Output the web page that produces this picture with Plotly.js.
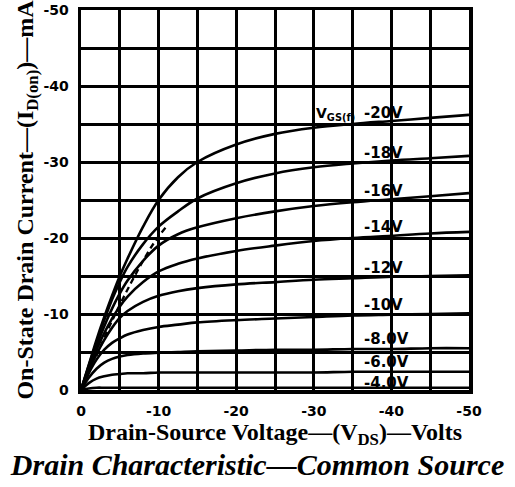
<!DOCTYPE html>
<html>
<head>
<meta charset="utf-8">
<script src="https://cdn.plot.ly/plotly-3.0.1.min.js"></script>
<style>html,body{margin:0;padding:0;background:#fff;}#chart{width:515px;height:487px;}</style>
</head>
<body>
<div id="chart"></div>
<script>
// Drain-source voltage (V) sample points, shared by all curves
const vds = [0, -1, -2, -3, -4, -5, -6, -8, -10, -12.5, -15, -20, -25, -30, -35, -40, -45, -50];

// Gate-source voltage labels (one per curve)
const gateLabels = ["-20V", "-18V", "-16V", "-14V", "-12V", "-10V", "-8.0V", "-6.0V", "-4.0V"];

// Drain current (mA) for each curve
const id_m20 = [0, -3.3, -6.6, -9.6, -12.4, -15.0, -17.3, -21.5, -25.0, -28.0, -30.0, -32.3, -33.7, -34.5, -35.0, -35.4, -35.8, -36.2];
const id_m18 = [0, -3.2, -6.3, -9.2, -11.9, -14.2, -16.2, -19.2, -21.5, -23.5, -25.2, -27.2, -28.5, -29.3, -29.8, -30.2, -30.5, -30.8];
const id_m16 = [0, -3.0, -5.8, -8.4, -10.7, -12.7, -14.4, -17.0, -19.0, -20.5, -21.4, -22.6, -23.5, -24.2, -24.7, -25.1, -25.5, -25.9];
const id_m14 = [0, -2.8, -5.3, -7.5, -9.4, -11.0, -12.3, -14.2, -15.6, -16.6, -17.3, -18.3, -19.0, -19.6, -20.0, -20.3, -20.6, -20.8];
const id_m12 = [0, -2.5, -4.7, -6.6, -8.2, -9.5, -10.4, -11.6, -12.4, -13.0, -13.4, -13.9, -14.2, -14.5, -14.7, -14.9, -15.0, -15.1];
const id_m10 = [0, -2.2, -4.0, -5.3, -6.2, -6.8, -7.3, -7.9, -8.3, -8.6, -8.9, -9.2, -9.4, -9.6, -9.8, -9.9, -10.0, -10.1];
const id_m8  = [0, -1.6, -2.8, -3.6, -4.1, -4.4, -4.6, -4.8, -4.9, -5.0, -5.1, -5.2, -5.3, -5.3, -5.4, -5.4, -5.5, -5.5];
const id_m6  = [0, -0.9, -1.5, -1.8, -2.0, -2.1, -2.2, -2.2, -2.3, -2.3, -2.3, -2.3, -2.3, -2.3, -2.4, -2.4, -2.4, -2.4];
const id_m4  = [0, -0.2, -0.3, -0.3, -0.3, -0.3, -0.3, -0.3, -0.3, -0.3, -0.3, -0.3, -0.3, -0.3, -0.3, -0.3, -0.3, -0.3];
const curves = [id_m20, id_m18, id_m16, id_m14, id_m12, id_m10, id_m8, id_m6, id_m4];

// Dashed saturation locus
const satVds = [-2.0, -3.5, -5.0, -6.5, -8.0, -9.5, -11.0];
const satId  = [-4.5, -8.0, -11.2, -14.2, -17.0, -19.5, -21.5];

// Axis ticks
const xTickVals = [0, -10, -20, -30, -40, -50];
const xTickText = ["0", "-10", "-20", "-30", "-40", "-50"];
const yTickVals = [0, -10, -20, -30, -40, -50];
const yTickText = ["0", "-10", "-20", "-30", "-40", "-50"];

const labelX = -36.3;

const traces = curves.map((ys, i) => ({
  x: vds, y: ys, type: 'scatter', mode: 'lines', name: gateLabels[i],
  line: {color: '#000', width: 2.6, shape: 'spline', smoothing: 1.0},
  hoverinfo: 'skip'
}));
traces.push({
  x: satVds, y: satId, type: 'scatter', mode: 'lines', name: 'sat',
  line: {color: '#000', width: 2.3, dash: '6px,4px', shape: 'spline'},
  hoverinfo: 'skip'
});

function interp(xs, ys, x) {
  for (let i = 0; i < xs.length - 1; i++) {
    if ((x <= xs[i] && x >= xs[i + 1])) {
      const t = (x - xs[i]) / (xs[i + 1] - xs[i]);
      return ys[i] + t * (ys[i + 1] - ys[i]);
    }
  }
  return ys[ys.length - 1];
}

const labelFont = {family: 'DejaVu Sans', size: 15, color: '#000', weight: 'bold'};
const annotations = curves.map((ys, i) => ({
  x: labelX, y: interp(vds, ys, labelX), xref: 'x', yref: 'y',
  text: gateLabels[i], showarrow: false, xanchor: 'left', yanchor: 'bottom',
  yshift: (i === curves.length - 1) ? -5 : 0, borderpad: 0, font: labelFont
}));
annotations.push({
  x: -35.4, y: interp(vds, id_m20, -35.4), xref: 'x', yref: 'y',
  text: 'V<sub>GS(f)</sub>', showarrow: false, xanchor: 'right', yanchor: 'bottom',
  yshift: 0, borderpad: 0, font: {family: 'DejaVu Sans', size: 14, color: '#000', weight: 'bold'}
});

const axisCommon = {
  range: [0, -50], zeroline: false, showline: true, mirror: true,
  linecolor: '#000', linewidth: 3.5, ticks: 'outside', ticklen: 6,
  tickcolor: 'rgba(0,0,0,0)', tickmode: 'array',
  tickfont: {family: 'DejaVu Sans', size: 14, color: '#000', weight: 'bold'},
  showgrid: true, gridcolor: '#000', gridwidth: 3,
  minor: {tickmode: 'linear', tick0: 0, dtick: 5, showgrid: true, gridcolor: '#000', gridwidth: 3, ticks: ''}
};

const layout = {
  width: 515, height: 487,
  margin: {l: 81, r: 46, t: 10, b: 97},
  paper_bgcolor: '#fff', plot_bgcolor: '#fff',
  showlegend: false,
  title: {
    text: 'Drain Characteristic—Common Source',
    font: {family: 'Liberation Serif', size: 30, color: '#000', weight: 'bold', style: 'italic'},
    xref: 'container', x: 0.5, xanchor: 'center',
    yref: 'container', y: 0.046, yanchor: 'middle'
  },
  xaxis: Object.assign({}, axisCommon, {
    tickvals: xTickVals, ticktext: xTickText,
    title: {text: 'Drain-Source Voltage—(V<sub>DS</sub>)—Volts',
            font: {family: 'Liberation Serif', size: 24, color: '#000', weight: 'bold'}, standoff: 2}
  }),
  yaxis: Object.assign({}, axisCommon, {
    tickvals: yTickVals, ticktext: yTickText,
    title: {text: 'On-State Drain Current—(I<sub>D(on)</sub>)—mA',
            font: {family: 'Liberation Serif', size: 24, color: '#000', weight: 'bold'}, standoff: 4}
  }),
  annotations: annotations
};

Plotly.newPlot('chart', traces, layout, {displayModeBar: false, staticPlot: true});
</script>
</body>
</html>
